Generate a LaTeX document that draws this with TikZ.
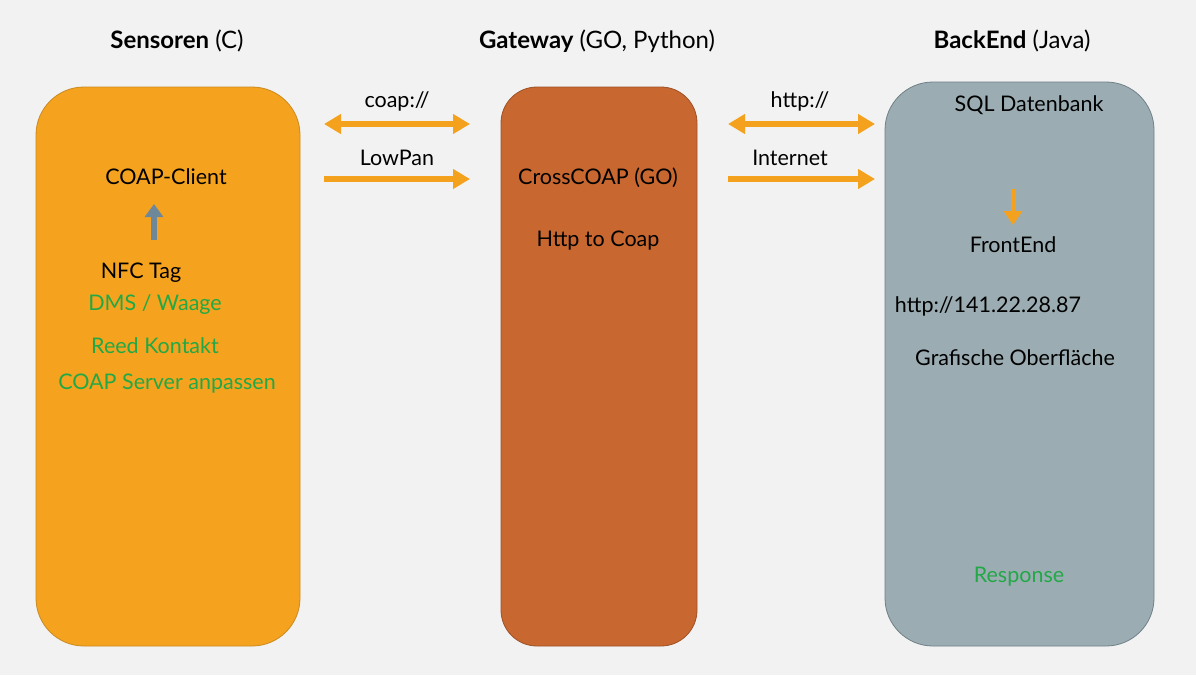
\documentclass[tikz,border=0pt]{standalone}
\usepackage{fontspec}
\setmainfont{Lato}
\usetikzlibrary{arrows.meta}
\definecolor{bg}{HTML}{F2F2F2}
\definecolor{sensfill}{HTML}{F5A31E}
\definecolor{sensdraw}{HTML}{C98A20}
\definecolor{gwfill}{HTML}{C8672F}
\definecolor{gwdraw}{HTML}{9E5228}
\definecolor{befill}{HTML}{9BADB3}
\definecolor{bedraw}{HTML}{6F7F86}
\definecolor{arr}{HTML}{F4A21E}
\definecolor{slate}{HTML}{6E8799}
\definecolor{grn}{HTML}{22A846}
\tikzset{
  panel/.style={rounded corners=48pt, line width=0.8pt},
  txt/.style={font=\fontsize{21.5}{24}\selectfont, text=black, inner sep=0pt},
  gtxt/.style={txt, text=grn},
  ttl/.style={font=\fontsize{24}{28}\selectfont, inner sep=0pt},
  flow/.style={line width=5.5pt, draw=arr, -{Triangle[length=17pt,width=19pt]}},
  bflow/.style={line width=5.5pt, draw=arr, {Triangle[length=17pt,width=19pt]}-{Triangle[length=17pt,width=19pt]}},
}
\begin{document}
\begin{tikzpicture}[x=1pt,y=-1pt]
\fill[bg] (0,0) rectangle (1196,675);
\useasboundingbox (0,0) rectangle (1196,675);
% panels
\draw[panel, fill=sensfill, draw=sensdraw] (36,87) rectangle (300,646);
\draw[panel, fill=gwfill, draw=gwdraw, rounded corners=36pt] (501,87) rectangle (697,646);
\draw[panel, fill=befill, draw=bedraw] (885,82) rectangle (1154,646);
% titles
\node[ttl] (t1) at (177,41) {\textbf{Sensoren} (C)};
\node[ttl] (t2) at (597,41) {\textbf{Gateway} (GO, Python)};
\node[ttl] (t3) at (1012,41) {\textbf{BackEnd} (Java)};
% connector anchors
\coordinate (a1l) at (324,124); \coordinate (a1r) at (470,124);
\coordinate (a2l) at (324,179); \coordinate (a2r) at (470,179);
\coordinate (a3l) at (728,124); \coordinate (a3r) at (875,124);
\coordinate (a4l) at (728,179); \coordinate (a4r) at (875,179);
\draw[bflow] (a1l) -- (a1r);
\draw[flow] (a2l) -- (a2r);
\draw[bflow] (a3l) -- (a3r);
\draw[flow] (a4l) -- (a4r);
\node[txt] (l1) at (397,101) {coap://};
\node[txt] (l2) at (397,158) {LowPan};
\node[txt] (l3) at (800,101) {http://};
\node[txt] (l4) at (790,158) {Internet};
% sensoren content
\node[txt] (cc) at (166,177) {COAP-Client};
\node[txt] (nfc) at (141,273) {NFC Tag};
\node[gtxt] (dms) at (155,305) {DMS / Waage};
\node[gtxt] (reed) at (155,346) {Reed Kontakt};
\node[gtxt] (srv) at (167,384) {COAP Server anpassen};
\coordinate (up1) at (154,240); \coordinate (up2) at (154,204);
\draw[line width=5.5pt, draw=slate, -{Triangle[length=13pt,width=18pt]}] (up1) -- (up2);
% gateway content
\node[txt] (cross) at (598,178) {CrossCOAP (GO)};
\node[txt] (h2c) at (598,241) {Http to Coap};
% backend content
\node[txt] (sql) at (1029,105) {SQL Datenbank};
\node[txt] (fe) at (1013,245) {FrontEnd};
\node[txt] (ip) at (988,306) {http://141.22.28.87};
\node[txt] (gui) at (1015,358) {Grafische Oberfläche};
\node[gtxt] (resp) at (1019,577) {Response};
\coordinate (dn1) at (1013,189); \coordinate (dn2) at (1013,225);
\draw[line width=5pt, draw=arr, -{Triangle[length=14pt,width=18pt]}] (dn1) -- (dn2);
\end{tikzpicture}
\end{document}
